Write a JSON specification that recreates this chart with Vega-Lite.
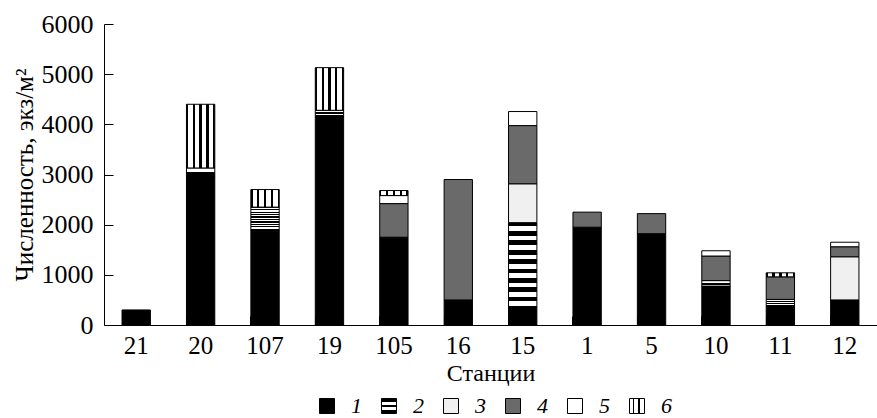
{
  "$schema": "https://vega.github.io/schema/vega-lite/v6.json",
  "autosize": "none",
  "width": 773,
  "height": 301,
  "padding": {"left": 104, "top": 24, "right": 0, "bottom": 93},
  "background": "white",
  "data": {
    "values": [
      {"station": "21", "group": "1", "value": 300},
      {"station": "20", "group": "1", "value": 2950},
      {"station": "20", "group": "2", "value": 180},
      {"station": "20", "group": "6", "value": 1270},
      {"station": "107", "group": "1", "value": 1870},
      {"station": "107", "group": "2", "value": 480},
      {"station": "107", "group": "6", "value": 350},
      {"station": "19", "group": "1", "value": 4150},
      {"station": "19", "group": "2", "value": 130},
      {"station": "19", "group": "6", "value": 850},
      {"station": "105", "group": "1", "value": 1730},
      {"station": "105", "group": "2", "value": 20},
      {"station": "105", "group": "4", "value": 670},
      {"station": "105", "group": "5", "value": 160},
      {"station": "105", "group": "6", "value": 100},
      {"station": "16", "group": "1", "value": 500},
      {"station": "16", "group": "4", "value": 2400},
      {"station": "15", "group": "1", "value": 170},
      {"station": "15", "group": "2", "value": 1870},
      {"station": "15", "group": "3", "value": 775},
      {"station": "15", "group": "4", "value": 1160},
      {"station": "15", "group": "5", "value": 280},
      {"station": "1", "group": "1", "value": 1900},
      {"station": "1", "group": "2", "value": 50},
      {"station": "1", "group": "4", "value": 300},
      {"station": "5", "group": "1", "value": 1820},
      {"station": "5", "group": "4", "value": 400},
      {"station": "10", "group": "1", "value": 775},
      {"station": "10", "group": "2", "value": 110},
      {"station": "10", "group": "4", "value": 490},
      {"station": "10", "group": "5", "value": 105},
      {"station": "11", "group": "1", "value": 380},
      {"station": "11", "group": "2", "value": 130},
      {"station": "11", "group": "4", "value": 450},
      {"station": "11", "group": "6", "value": 80},
      {"station": "12", "group": "1", "value": 500},
      {"station": "12", "group": "3", "value": 860},
      {"station": "12", "group": "4", "value": 200},
      {"station": "12", "group": "5", "value": 90}
    ]
  },
  "encoding": {
    "x": {
      "field": "station",
      "type": "nominal",
      "sort": ["21", "20", "107", "19", "105", "16", "15", "1", "5", "10", "11", "12"],
      "scale": {"paddingInner": 0.56, "paddingOuter": 0.28},
      "axis": {
        "title": "Станции",
        "labelAngle": 0,
        "bandPosition": 0,
        "tickSize": -9,
        "labelPadding": 17,
        "titlePadding": 3,
        "labelFontSize": 25,
        "titleFontSize": 24,
        "titleFontWeight": "normal"
      }
    }
  },
  "layer": [
    {
      "mark": {"type": "bar", "stroke": "black", "strokeWidth": 1, "fillOpacity": 1},
      "encoding": {
        "y": {
          "field": "value",
          "type": "quantitative",
          "aggregate": "sum",
          "stack": "zero",
          "scale": {"domain": [0, 6000], "nice": false},
          "axis": {
            "title": "Численность, экз/м²",
            "values": [0, 1000, 2000, 3000, 4000, 5000, 6000],
            "format": "d",
            "grid": false,
            "tickSize": -9,
            "labelPadding": 20,
            "labelFontSize": 26,
            "titleFontSize": 25,
            "titleFontWeight": "normal",
            "titlePadding": 4
          }
        },
        "order": {"field": "group", "type": "ordinal", "sort": "ascending"},
        "fill": {
          "condition": [
            {"test": "datum.group === '2'", "value": {"gradient": "linear", "x1": 0, "y1": 0, "x2": 0, "y2": 1, "stops": [
                {"offset": 0, "color": "black"},
                {"offset": 0.04, "color": "black"}, {"offset": 0.04, "color": "white"}, {"offset": 0.09, "color": "white"}, {"offset": 0.09, "color": "black"},
                {"offset": 0.14, "color": "black"}, {"offset": 0.14, "color": "white"}, {"offset": 0.19, "color": "white"}, {"offset": 0.19, "color": "black"},
                {"offset": 0.24, "color": "black"}, {"offset": 0.24, "color": "white"}, {"offset": 0.29, "color": "white"}, {"offset": 0.29, "color": "black"},
                {"offset": 0.34, "color": "black"}, {"offset": 0.34, "color": "white"}, {"offset": 0.39, "color": "white"}, {"offset": 0.39, "color": "black"},
                {"offset": 0.44, "color": "black"}, {"offset": 0.44, "color": "white"}, {"offset": 0.49, "color": "white"}, {"offset": 0.49, "color": "black"},
                {"offset": 0.54, "color": "black"}, {"offset": 0.54, "color": "white"}, {"offset": 0.59, "color": "white"}, {"offset": 0.59, "color": "black"},
                {"offset": 0.64, "color": "black"}, {"offset": 0.64, "color": "white"}, {"offset": 0.69, "color": "white"}, {"offset": 0.69, "color": "black"},
                {"offset": 0.74, "color": "black"}, {"offset": 0.74, "color": "white"}, {"offset": 0.79, "color": "white"}, {"offset": 0.79, "color": "black"},
                {"offset": 0.84, "color": "black"}, {"offset": 0.84, "color": "white"}, {"offset": 0.89, "color": "white"}, {"offset": 0.89, "color": "black"},
                {"offset": 1, "color": "black"}
              ]}},
            {"test": "datum.group === '6'", "value": {"gradient": "linear", "x1": 0, "y1": 0, "x2": 1, "y2": 0, "stops": [
                {"offset": 0, "color": "black"},
                {"offset": 0.06, "color": "black"}, {"offset": 0.06, "color": "white"}, {"offset": 0.22, "color": "white"}, {"offset": 0.22, "color": "black"},
                {"offset": 0.30, "color": "black"}, {"offset": 0.30, "color": "white"}, {"offset": 0.46, "color": "white"}, {"offset": 0.46, "color": "black"},
                {"offset": 0.54, "color": "black"}, {"offset": 0.54, "color": "white"}, {"offset": 0.70, "color": "white"}, {"offset": 0.70, "color": "black"},
                {"offset": 0.78, "color": "black"}, {"offset": 0.78, "color": "white"}, {"offset": 0.94, "color": "white"}, {"offset": 0.94, "color": "black"},
                {"offset": 1, "color": "black"}
              ]}},
            {"test": "datum.group === '3'", "value": "#f0f0f0"},
            {"test": "datum.group === '4'", "value": "#6a6a6a"},
            {"test": "datum.group === '5'", "value": "white"}
          ],
          "value": "black"
        }
      }
    },
    {
      "mark": {"type": "square", "opacity": 0},
      "encoding": {
        "y": {"datum": 0, "type": "quantitative"},
        "color": {
          "field": "group",
          "type": "nominal",
          "scale": {
            "domain": ["1", "2", "3", "4", "5", "6"],
            "range": [
              "black",
              {"expr": "{gradient: 'linear', x1: 0, y1: 0, x2: 0, y2: 1, stops: [{offset: 0, color: 'black'}, {offset: 0.25, color: 'black'}, {offset: 0.25, color: 'white'}, {offset: 0.42, color: 'white'}, {offset: 0.42, color: 'black'}, {offset: 0.58, color: 'black'}, {offset: 0.58, color: 'white'}, {offset: 0.75, color: 'white'}, {offset: 0.75, color: 'black'}, {offset: 1, color: 'black'}]}"},
              "#f0f0f0",
              "#6a6a6a",
              "white",
              {"expr": "{gradient: 'linear', x1: 0, y1: 0, x2: 1, y2: 0, stops: [{offset: 0, color: 'white'}, {offset: 0.25, color: 'white'}, {offset: 0.25, color: 'black'}, {offset: 0.33, color: 'black'}, {offset: 0.33, color: 'white'}, {offset: 0.58, color: 'white'}, {offset: 0.58, color: 'black'}, {offset: 0.67, color: 'black'}, {offset: 0.67, color: 'white'}, {offset: 1, color: 'white'}]}"}
            ]
          },
          "legend": {
            "title": null,
            "orient": "none",
            "legendX": 212,
            "legendY": 371,
            "direction": "horizontal",
            "columns": 6,
            "symbolType": "square",
            "symbolSize": 225,
            "symbolStrokeColor": "black",
            "symbolStrokeWidth": 1,
            "symbolOpacity": 1,
            "labelFontSize": 22,
            "labelFontStyle": "italic",
            "labelOffset": 13,
            "columnPadding": 16
          }
        }
      }
    }
  ],
  "config": {
    "font": "Liberation Serif",
    "view": {"stroke": null},
    "axis": {
      "domainColor": "black",
      "tickColor": "black",
      "labelColor": "black",
      "titleColor": "black",
      "labelFont": "Liberation Serif",
      "titleFont": "Liberation Serif",
      "domainWidth": 1,
      "tickWidth": 1
    },
    "legend": {"labelFont": "Liberation Serif", "labelColor": "black"}
  }
}
